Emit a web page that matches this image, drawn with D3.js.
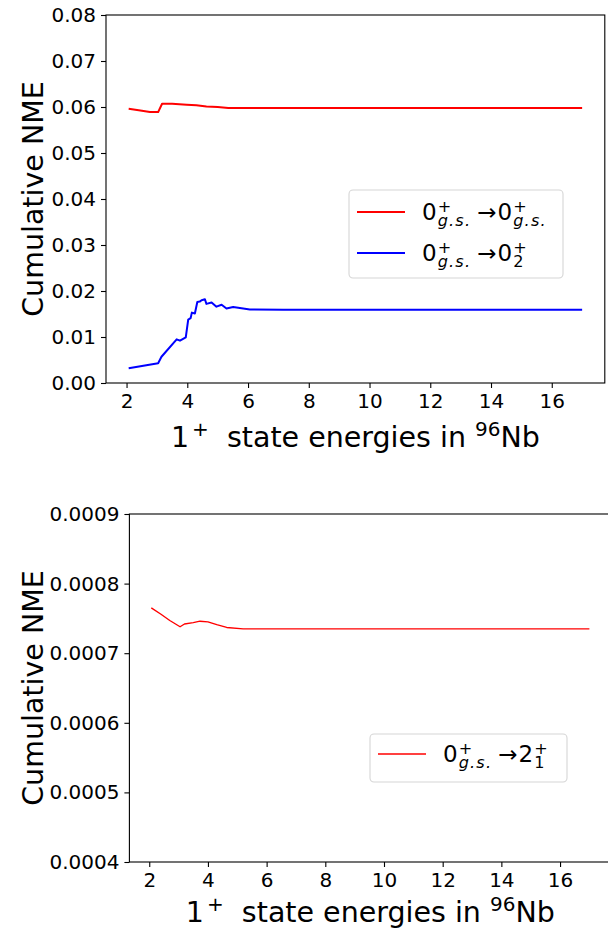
<!DOCTYPE html>
<html>
<head>
<meta charset="utf-8">
<script src="https://cdn.jsdelivr.net/npm/d3@7"></script>
<style>
  body { margin: 0; background: #fff; }
  svg, svg text { font-family: "DejaVu Sans", sans-serif; }
</style>
</head>
<body>
<svg id="chart" width="608" height="928"></svg>
<script>
// data
var energyGs = [2.07, 2.4, 2.77, 3.04, 3.17, 3.5, 3.98, 4.3, 4.63, 5.0, 5.35, 6, 8, 10, 12, 14, 17];
var nmeGs = [0.0596, 0.0593, 0.0589, 0.0589, 0.0607, 0.0607, 0.0605, 0.0604, 0.0601, 0.0600, 0.0598, 0.0598, 0.0598, 0.0598, 0.0598, 0.0598, 0.0598];

var energy02 = [2.07, 3.04, 3.15, 3.65, 3.76, 3.95, 4.03, 4.11, 4.15, 4.25, 4.33, 4.41, 4.47, 4.58, 4.63, 4.80, 4.96, 5.13, 5.29, 5.51, 6.06, 7.16, 10, 14, 17];
var nme02 = [0.0032, 0.0043, 0.0057, 0.0095, 0.0092, 0.0099, 0.0138, 0.0141, 0.0153, 0.0151, 0.0176, 0.0177, 0.0180, 0.0182, 0.0172, 0.0175, 0.0166, 0.0170, 0.0162, 0.0165, 0.0160, 0.0159, 0.0159, 0.0159, 0.0159];

var energy21 = [2.07, 2.4, 2.7, 3.05, 3.2, 3.5, 3.73, 4.0, 4.3, 4.64, 5.2, 6, 8, 10, 12, 14, 17];
var nme21 = [0.000765, 0.000756, 0.000747, 0.000738, 0.000742, 0.000744, 0.000746, 0.000745, 0.000741, 0.000737, 0.000735, 0.000735, 0.000735, 0.000735, 0.000735, 0.000735, 0.000735];

var xTicks = [2, 4, 6, 8, 10, 12, 14, 16];
var yTicksTop = [0, 0.01, 0.02, 0.03, 0.04, 0.05, 0.06, 0.07, 0.08];
var yTicksBottom = [0.0004, 0.0005, 0.0006, 0.0007, 0.0008, 0.0009];

var svg = d3.select("#chart");
var tickFont = 20, labelFont = 28.5, legendFont = 23;

function panel(box, yDomain, yTicks, yFmt) {
    var x = d3.scaleLinear().domain([1.3235, 17.7465]).range([box.left, box.right]);
    var y = d3.scaleLinear().domain(yDomain).range([box.bottom, box.top]);
    var g = svg.append("g");

    var xa = g.append("g")
        .attr("transform", "translate(0," + box.bottom + ")")
        .call(d3.axisBottom(x).tickValues(xTicks).tickSize(5).tickPadding(6).tickFormat(d3.format("d")));
    var ya = g.append("g")
        .attr("transform", "translate(" + box.left + ",0)")
        .call(d3.axisLeft(y).tickValues(yTicks).tickSize(5).tickPadding(5).tickFormat(yFmt));
    [xa, ya].forEach(function(a){
        a.attr("font-family", null).attr("font-size", null);
        a.selectAll("text").style("font-size", tickFont + "px").attr("fill", "#000");
        a.selectAll("line").attr("stroke", "#000").attr("stroke-width", 1.1);
        a.select(".domain").remove();
    });
    g.append("rect")
        .attr("x", box.left).attr("y", box.top)
        .attr("width", box.right - box.left).attr("height", box.bottom - box.top)
        .attr("fill", "none").attr("stroke", "#000").attr("stroke-width", 1.1);

    // y label
    g.append("text")
        .attr("transform", "translate(" + box.ylabelX + "," + ((box.top + box.bottom) / 2) + ") rotate(-90)")
        .attr("text-anchor", "middle")
        .attr("dy", "0.36em")
        .style("font-size", labelFont + "px")
        .text("Cumulative NME");

    // x label: 1^+ state energies in ^96Nb
    var xl = g.append("text")
        .attr("x", (box.left + box.right) / 2)
        .attr("y", box.xlabelY)
        .attr("text-anchor", "middle")
        .style("font-size", labelFont + "px");
    xl.append("tspan").text("1");
    xl.append("tspan").attr("dx", 3).attr("dy", -11).style("font-size", "20px").text("+");
    xl.append("tspan").attr("dy", 11).text("\u00a0 state energies in ");
    xl.append("tspan").attr("dy", -11).style("font-size", "20px").text("96");
    xl.append("tspan").attr("dy", 11).text("Nb");

    return {x: x, y: y, g: g};
}

function drawLine(p, xs, ys, color, width) {
    var line = d3.line().x(function(d){ return p.x(d[0]); }).y(function(d){ return p.y(d[1]); });
    p.g.append("path")
        .datum(d3.zip(xs, ys))
        .attr("d", line)
        .attr("fill", "none")
        .attr("stroke", color)
        .attr("stroke-width", width)
        .attr("stroke-linejoin", "round");
}

var small = legendFont * 0.7;
function measure(txt, size, italic) {
    var t = svg.append("text").style("font-size", size + "px").style("font-style", italic ? "italic" : "normal")
        .attr("letter-spacing", italic ? 1.2 : null).text(txt);
    var w = t.node().getComputedTextLength();
    t.remove();
    return w;
}

// mathtext-ish term inside one text: base, stacked sup and sub
function term(t, base, sup, sub, lead) {
    var it = !/\d/.test(sub);
    var wSup = measure(sup, small, false), wSub = measure(sub, small, it);
    t.append("tspan").attr("dx", lead).text(base);
    t.append("tspan").attr("dx", 1).attr("dy", -8).style("font-size", small + "px").text(sup);
    t.append("tspan").attr("dx", -wSup).attr("dy", 14).style("font-size", small + "px")
        .style("font-style", it ? "italic" : "normal").attr("letter-spacing", it ? 1.2 : null).text(sub);
    // return to baseline, at the right end of the wider script
    return {dy: -6, dx: Math.max(0, wSup - wSub)};
}

function legendRow(g, x, y, color, width, target) {
    g.append("line").attr("x1", x).attr("x2", x + 48).attr("y1", y).attr("y2", y)
        .attr("stroke", color).attr("stroke-width", width);
    var t = g.append("text").attr("x", x + 65).attr("y", y + 8).style("font-size", legendFont + "px");
    var r = term(t, "0", "+", "g.s.", 0);
    t.append("tspan").attr("dx", r.dx + 6).attr("dy", r.dy).text("\u2192");
    term(t, target[0], target[1], target[2], 1);
}

function legendBox(g, x, y, w, h) {
    g.append("rect").attr("x", x).attr("y", y).attr("width", w).attr("height", h)
        .attr("rx", 4).attr("fill", "#fff").attr("fill-opacity", 0.8)
        .attr("stroke", "#d5d5d5").attr("stroke-width", 1.1);
}

// top panel
var upper = panel({left: 106, right: 604.8, top: 15, bottom: 383, ylabelX: 33, xlabelY: 447},
    [0, 0.08], yTicksTop, d3.format(".2f"));
drawLine(upper, energyGs, nmeGs, "#ff0000", 2);
drawLine(upper, energy02, nme02, "#0000ff", 2);
var lg1 = upper.g.append("g");
legendBox(lg1, 349, 190, 214, 88);
legendRow(lg1, 357, 212, "#ff0000", 2, ["0", "+", "g.s."]);
legendRow(lg1, 357, 253, "#0000ff", 2, ["0", "+", "2"]);

// bottom panel
var lower = panel({left: 129.4, right: 611.3, top: 514, bottom: 862, ylabelX: 33, xlabelY: 922},
    [0.0004, 0.0009], yTicksBottom, d3.format(".4f"));
drawLine(lower, energy21, nme21, "#ff0000", 1.4);
var lg2 = lower.g.append("g");
legendBox(lg2, 370, 734, 197, 48);
legendRow(lg2, 378, 754, "#ff0000", 1.4, ["2", "+", "1"]);
</script>
</body>
</html>
